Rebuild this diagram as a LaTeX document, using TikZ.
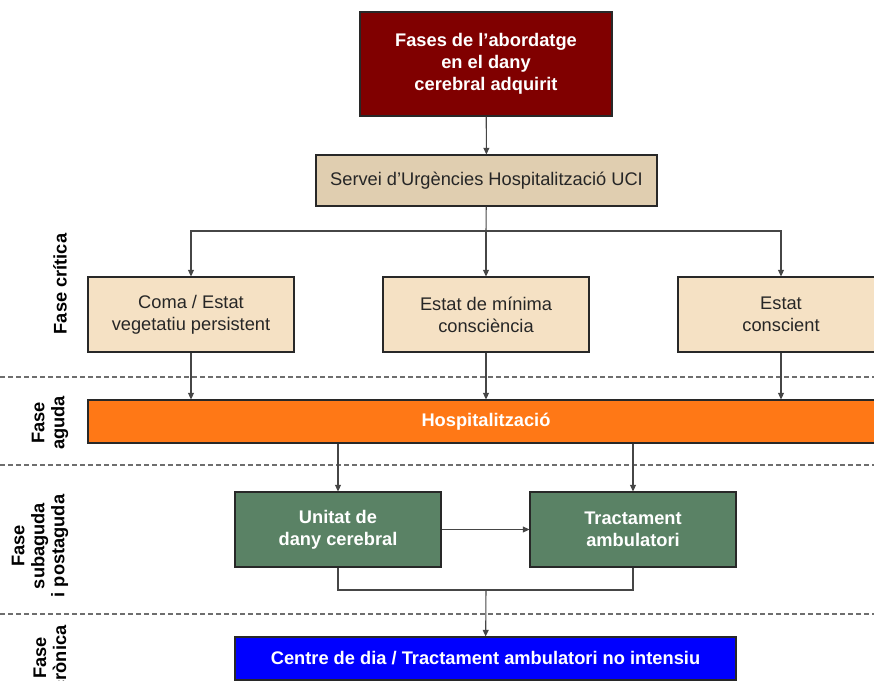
\documentclass[tikz,border=0pt]{standalone}
\usepackage{fontspec}
\setmainfont{Liberation Sans}
\usetikzlibrary{arrows.meta,positioning}
\definecolor{dcaRed}{RGB}{128,0,0}
\definecolor{dcaTan}{RGB}{224,206,176}
\definecolor{dcaWheat}{RGB}{245,225,196}
\definecolor{dcaOrange}{RGB}{255,120,22}
\definecolor{dcaGreen}{RGB}{90,130,101}
\definecolor{dcaBlue}{RGB}{0,0,255}
\definecolor{dcaEdge}{RGB}{40,40,40}
\definecolor{dcaLine}{RGB}{70,70,70}
\definecolor{dcaDash}{RGB}{110,110,110}

\begin{document}
\begin{tikzpicture}[x=0.75pt,y=-0.75pt,
    box/.style={draw=dcaEdge, line width=0.8pt, align=center, inner sep=0pt,
      font=\fontsize{13.7}{16.5}\selectfont},
    darkbox/.style={box, fill=#1, text=white, font=\bfseries\fontsize{13.7}{16.5}\selectfont},
    lightbox/.style={box, fill=#1, text=black!85},
    arr/.style={draw=dcaLine, line width=0.8pt, -{Triangle[length=5pt,width=4.5pt]}},
    link/.style={draw=dcaLine, line width=0.8pt},
    phaseline/.style={draw=dcaDash, line width=0.8pt, dash pattern=on 3.75pt off 2.25pt},
    phase/.style={rotate=90, align=center, font=\bfseries\fontsize{13.7}{15}\selectfont}]
    \useasboundingbox (0,0) rectangle (874,681);
    \clip (0,0) rectangle (874,681);

    % phase separators
    \draw[phaseline] (0,377) -- (874,377);
    \draw[phaseline] (0,465) -- (874,465);
    \draw[phaseline] (0,614) -- (874,614);

    % phase labels
    \node[phase] (critica) at (60,284) {Fase crítica};
    \node[phase] (aguda) at (50,423) {Fase\\aguda};
    \node[phase] (subaguda) at (40,546) {Fase\\subaguda\\i postaguda};
    \node[phase] (cronica) at (50,658) {Fase\\crònica};

    % boxes
    \node[darkbox=dcaRed, minimum width=189pt, minimum height=78pt] (fases) at (486,64)
        {Fases de l’abordatge\\en el dany\\cerebral adquirit};
    \node[lightbox=dcaTan, minimum width=255.75pt, minimum height=38.25pt] (urgencies) at (486.5,180.5)
        {Servei d’Urgències Hospitalització UCI};
    \node[lightbox=dcaWheat, minimum width=154.5pt, minimum height=56.25pt] (coma) at (191,314.5)
        {Coma / Estat\\vegetatiu persistent};
    \node[lightbox=dcaWheat, minimum width=154.5pt, minimum height=56.25pt] (minima) at (486,314.5)
        {Estat de mínima\\consciència};
    \node[lightbox=dcaWheat, minimum width=154.5pt, minimum height=56.25pt] (conscient) at (781,314.5)
        {Estat\\conscient};
    \node[darkbox=dcaOrange, minimum width=597pt, minimum height=32.25pt] (hosp) at (486,421.5)
        {Hospitalització};
    \node[darkbox=dcaGreen, minimum width=154.5pt, minimum height=56.25pt] (unitat) at (338,529.5)
        {Unitat de\\dany cerebral};
    \node[darkbox=dcaGreen, minimum width=154.5pt, minimum height=56.25pt] (ambulatori) at (633,529.5)
        {Tractament\\ambulatori};
    \node[darkbox=dcaBlue, minimum width=375.75pt, minimum height=32.25pt] (centre) at (485.5,658.5)
        {Centre de dia / Tractament ambulatori no intensiu};

    % connectors
    \coordinate (split) at (486,231);
    \coordinate (join) at (486,590);
    \draw[arr] (fases) -- (urgencies);
    \draw[link] (urgencies) -- (split);
    \draw[arr] (split) -| (coma);
    \draw[arr] (split) -- (minima);
    \draw[arr] (split) -| (conscient);
    \draw[arr] (coma) -- (coma |- hosp.north);
    \draw[arr] (minima) -- (minima |- hosp.north);
    \draw[arr] (conscient) -- (conscient |- hosp.north);
    \draw[arr] (unitat |- hosp.south) -- (unitat);
    \draw[arr] (ambulatori |- hosp.south) -- (ambulatori);
    \draw[arr] (unitat) -- (ambulatori);
    \draw[link] (unitat) |- (join) -| (ambulatori);
    \draw[arr] (join) -- (centre);
\end{tikzpicture}
\end{document}
